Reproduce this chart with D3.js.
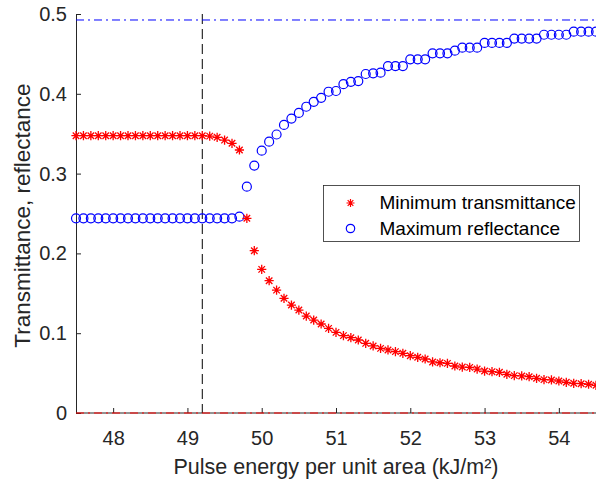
<!DOCTYPE html>
<html>
<head>
<meta charset="utf-8">
<script src="https://cdn.jsdelivr.net/npm/d3@7"></script>
<style>
  body { margin: 0; background: #fff; }
  svg { display: block; font-family: "Liberation Sans", Arial, Helvetica, sans-serif; }
  .axis path, .axis line { stroke: #262626; }
</style>
</head>
<body>
<svg id="chart" width="596" height="482"></svg>
<script>
// pulse energy grid (kJ/m^2)
const energy = [47.5, 47.6, 47.7, 47.8, 47.9, 48.0, 48.1, 48.2, 48.3, 48.4,
  48.5, 48.6, 48.7, 48.8, 48.9, 49.0, 49.1, 49.2, 49.3, 49.4,
  49.5, 49.6, 49.7, 49.8, 49.9, 50.0, 50.1, 50.2, 50.3, 50.4,
  50.5, 50.6, 50.7, 50.8, 50.9, 51.0, 51.1, 51.2, 51.3, 51.4,
  51.5, 51.6, 51.7, 51.8, 51.9, 52.0, 52.1, 52.2, 52.3, 52.4,
  52.5, 52.6, 52.7, 52.8, 52.9, 53.0, 53.1, 53.2, 53.3, 53.4,
  53.5, 53.6, 53.7, 53.8, 53.9, 54.0, 54.1, 54.2, 54.3, 54.4, 54.5];

const minTransmittance = [0.3475, 0.3475, 0.3475, 0.3475, 0.3475, 0.3475, 0.3475, 0.3475, 0.3475, 0.3475,
  0.3475, 0.3475, 0.3475, 0.3475, 0.3475, 0.3475, 0.3475, 0.3475, 0.347, 0.3455,
  0.342, 0.338, 0.3296, 0.244, 0.2034, 0.180, 0.1658, 0.154, 0.1437, 0.1353,
  0.129, 0.1215, 0.1165, 0.1115, 0.106, 0.101, 0.097, 0.0944, 0.0915, 0.0873,
  0.084, 0.081, 0.079, 0.0769, 0.0748, 0.0718, 0.0698, 0.0677, 0.064, 0.063,
  0.0622, 0.0589, 0.0576, 0.0572, 0.0551, 0.0526, 0.0518, 0.051, 0.0485, 0.0468,
  0.0464, 0.0455, 0.0435, 0.0418, 0.0414, 0.0401, 0.0385, 0.0372, 0.0367, 0.036, 0.0347];

const maxReflectance = [0.244, 0.244, 0.244, 0.244, 0.244, 0.244, 0.244, 0.244, 0.244, 0.244,
  0.244, 0.244, 0.244, 0.244, 0.244, 0.244, 0.244, 0.244, 0.244, 0.244,
  0.244, 0.244, 0.246, 0.2836, 0.31, 0.3287, 0.34, 0.349, 0.361, 0.369,
  0.376, 0.3838, 0.390, 0.395, 0.4026, 0.4035, 0.412, 0.415, 0.416, 0.4248,
  0.4257, 0.4265, 0.4348, 0.4348, 0.4348, 0.4432, 0.4432, 0.4432, 0.4507, 0.4507,
  0.4507, 0.454, 0.4578, 0.4578, 0.4578, 0.4638, 0.4638, 0.4638, 0.4638, 0.4692,
  0.4692, 0.4692, 0.4692, 0.474, 0.474, 0.474, 0.474, 0.4778, 0.4778, 0.4778, 0.4778];

const thresholdEnergy = 49.2;      // vertical dashed line
const reflectanceLimit = 0.4925;   // blue dash-dot line
const transmittanceLimit = 0;      // red dash-dot line

const xTicks = [48, 49, 50, 51, 52, 53, 54];
const yTicks = [0, 0.1, 0.2, 0.3, 0.4, 0.5];
const legendLabels = ["Minimum transmittance", "Maximum reflectance"];

let svg = d3.select("svg#chart");
let margin = { top: 14, right: 0, bottom: 69, left: 76 };
let width = +svg.attr("width");
let height = +svg.attr("height");
let chartWidth = width - margin.left - margin.right;
let chartHeight = height - margin.top - margin.bottom;

const xScale = d3.scaleLinear().domain([47.5, 54.5]).range([0, chartWidth]);
const yScale = d3.scaleLinear().domain([0, 0.5]).range([chartHeight, 0]);

let plot = svg.append("g").attr("transform", "translate(" + margin.left + "," + margin.top + ")");

// axes (ticks pointing inward, like matlab)
let bottomAxis = d3.axisBottom(xScale).tickValues(xTicks).tickSize(-5).tickPadding(18).tickFormat(d3.format("d"));
plot.append("g").attr("class", "x axis")
  .attr("transform", "translate(0," + chartHeight + ")")
  .call(bottomAxis)
  .call(g => g.select(".domain").attr("d", "M0.5,0H" + chartWidth))
  .call(g => g.selectAll("text").attr("fill", "#262626").style("font-size", "20px")
    .attr("font-family", "Liberation Sans, Arial, sans-serif"));

let leftAxis = d3.axisLeft(yScale).tickValues(yTicks).tickSize(-5).tickPadding(9).tickFormat(d => d === 0 ? "0" : d3.format(".1f")(d));
plot.append("g").attr("class", "y axis")
  .call(leftAxis)
  .call(g => g.select(".domain").attr("d", "M0.5," + chartHeight + "V0.5"))
  .call(g => g.selectAll("text").attr("fill", "#262626").style("font-size", "20px")
    .attr("font-family", "Liberation Sans, Arial, sans-serif"));

// reference lines
plot.append("line")
  .attr("x1", xScale(thresholdEnergy)).attr("x2", xScale(thresholdEnergy))
  .attr("y1", yScale(0.5)).attr("y2", yScale(0))
  .attr("stroke", "#000").attr("stroke-width", 1).attr("stroke-dasharray", "10,5");

plot.append("line")
  .attr("x1", 0).attr("x2", chartWidth)
  .attr("y1", yScale(reflectanceLimit)).attr("y2", yScale(reflectanceLimit))
  .attr("stroke", "#0000ff").attr("stroke-width", 1).attr("stroke-dasharray", "8,4,2,4");

plot.append("line")
  .attr("x1", 0).attr("x2", chartWidth)
  .attr("y1", yScale(transmittanceLimit)).attr("y2", yScale(transmittanceLimit))
  .attr("stroke", "#ff0000").attr("stroke-width", 1.2).attr("stroke-dasharray", "8,4,2,4");

// asterisk marker path
function starPath(r) {
  let a = r * Math.SQRT1_2;
  return "M" + (-r) + ",0H" + r + "M0," + (-r) + "V" + r +
    "M" + (-a) + "," + (-a) + "L" + a + "," + a +
    "M" + (-a) + "," + a + "L" + a + "," + (-a);
}

let marks = plot.append("g");

energy.forEach((e, i) => {
  marks.append("circle")
    .attr("cx", xScale(e))
    .attr("cy", yScale(maxReflectance[i]))
    .attr("r", 4.5)
    .attr("fill", "none")
    .attr("stroke", "#0000ff")
    .attr("stroke-width", 1.2);
});

energy.forEach((e, i) => {
  marks.append("path")
    .attr("transform", "translate(" + xScale(e) + "," + yScale(minTransmittance[i]) + ")")
    .attr("d", starPath(4.6))
    .attr("stroke", "#ff0000")
    .attr("stroke-width", 1.3)
    .attr("fill", "none");
});

// axis labels
svg.append("text")
  .attr("x", margin.left + chartWidth / 2)
  .attr("y", 474)
  .attr("text-anchor", "middle")
  .attr("fill", "#262626")
  .style("font-size", "21.5px")
  .text("Pulse energy per unit area (kJ/m²)");

svg.append("text")
  .attr("transform", "translate(30," + (margin.top + chartHeight / 2 + 2) + ") rotate(-90)")
  .attr("text-anchor", "middle")
  .attr("fill", "#262626")
  .style("font-size", "22.5px")
  .text("Transmittance, reflectance");

// legend
let legend = svg.append("g").attr("transform", "translate(323.5,185.5)");
legend.append("rect")
  .attr("width", 256).attr("height", 56)
  .attr("fill", "#fff").attr("stroke", "#262626").attr("stroke-width", 0.8);

legendLabels.forEach((label, i) => {
  let ly = 17.5 + i * 25.5;
  if (i === 0) {
    legend.append("path")
      .attr("transform", "translate(27," + ly + ")")
      .attr("d", starPath(4))
      .attr("stroke", "#ff0000").attr("stroke-width", 1.2);
  } else {
    legend.append("circle")
      .attr("cx", 27).attr("cy", ly).attr("r", 4.2)
      .attr("fill", "none").attr("stroke", "#0000ff").attr("stroke-width", 1.2);
  }
  legend.append("text")
    .attr("x", 56).attr("y", ly + 6)
    .attr("fill", "#000")
    .style("font-size", "19px")
    .text(label);
});
</script>
</body>
</html>
